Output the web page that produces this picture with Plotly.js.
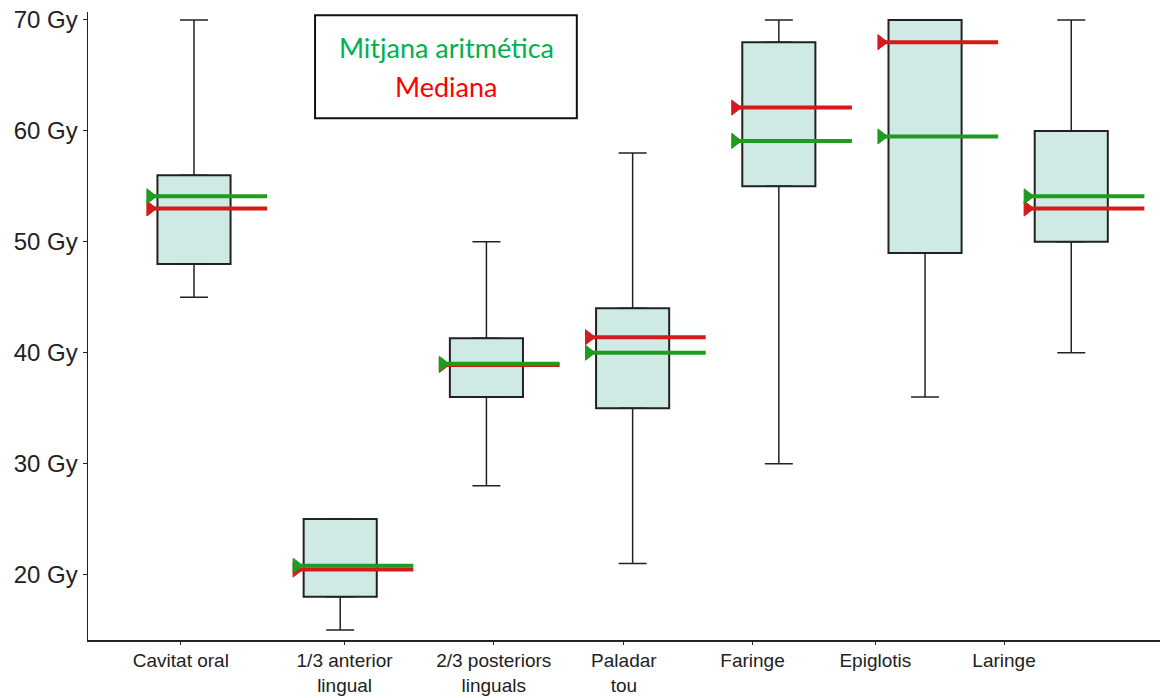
<!DOCTYPE html>
<html>
<head>
<meta charset="utf-8">
<script src="https://cdn.plot.ly/plotly-3.0.1.min.js"></script>
<style>html,body{margin:0;padding:0;background:#fff;}#chart{width:1164px;height:698px;}</style>
</head>
<body>
<div id="chart"></div>
<script>
// ---- data ----
const categories = ['Cavitat oral', '1/3 anterior<br>lingual', '2/3 posteriors<br>linguals', 'Paladar<br>tou', 'Faringe', 'Epiglotis', 'Laringe'];
const minVals    = [45, 15, 28, 21, 30, 36, 40];
const q1Vals     = [48, 18, 36, 35, 55, 49, 50];
const q3Vals     = [56, 25, 41.3, 44, 68, 70, 60];
const maxVals    = [70, 25, 50, 58, 70, 70, 70];
const meanVals   = [54.1, 20.8, 39.0, 40.0, 59.1, 59.5, 54.1];
const medianVals = [53.0, 20.45, 38.9, 41.4, 62.1, 68.0, 53.0];
const yTickVals  = [20, 30, 40, 50, 60, 70];
const yTickText  = ['20 Gy', '30 Gy', '40 Gy', '50 Gy', '60 Gy', '70 Gy'];
const legendTexts = ['Mitjana aritmética', 'Mediana'];

// ---- layout helpers ----
const idx = categories.map((_, i) => i);
const labelPos = [-0.09, 1.03, 2.05, 2.94, 3.82, 4.66, 5.54]; // where the original puts its axis labels
const lineLeft = -0.30, lineRight = 0.50;

function statTrace(vals, color) {
  const x = [], y = [], sym = [], sz = [];
  vals.forEach((v, i) => {
    x.push(i + lineLeft, i + lineRight, null);
    y.push(v, v, null);
    sym.push('triangle-right', 'circle', 'circle');
    sz.push(13, 0, 0);
  });
  return {
    type: 'scatter', mode: 'lines+markers', x, y,
    line: {color, width: 4},
    marker: {symbol: sym, size: sz, color, opacity: 1, line: {width: 1, color}},
    hoverinfo: 'skip', showlegend: false, cliponaxis: false
  };
}

const boxes = {
  type: 'bar', x: idx, base: q1Vals, y: q3Vals.map((q, i) => q - q1Vals[i]),
  width: 0.5,
  marker: {color: '#cfeae4', line: {color: '#222', width: 2}},
  hoverinfo: 'skip', showlegend: false
};
const upperWhisker = {
  type: 'scatter', mode: 'markers', x: idx, y: q3Vals,
  marker: {size: 1, opacity: 0},
  error_y: {type: 'data', symmetric: false, array: maxVals.map((m, i) => m - q3Vals[i]),
            arrayminus: idx.map(() => 0), color: '#222', thickness: 1.5, width: 14},
  hoverinfo: 'skip', showlegend: false
};
const lowerWhisker = {
  type: 'scatter', mode: 'markers', x: idx, y: q1Vals,
  marker: {size: 1, opacity: 0},
  error_y: {type: 'data', symmetric: false, array: idx.map(() => 0),
            arrayminus: q1Vals.map((q, i) => q - minVals[i]), color: '#222', thickness: 1.5, width: 14},
  hoverinfo: 'skip', showlegend: false
};

const traces = [boxes, upperWhisker, lowerWhisker,
                statTrace(medianVals, '#d41a1a'), statTrace(meanVals, '#1f9c1f')];

const layout = {
  width: 1164, height: 698,
  margin: {l: 88, r: 4, t: 12, b: 58, pad: 0},
  paper_bgcolor: '#fff', plot_bgcolor: '#fff',
  showlegend: false,
  font: {family: 'Liberation Sans, Arial, sans-serif', color: '#222'},
  xaxis: {
    range: [-0.725, 6.607], showgrid: false, zeroline: false,
    showline: true, linecolor: '#222', linewidth: 1.5,
    ticks: 'outside', ticklen: 3, tickcolor: '#222',
    tickvals: labelPos, ticktext: categories,
    tickfont: {size: 19, color: '#222'}
  },
  yaxis: {
    range: [14.1, 70.72], showgrid: false, zeroline: false,
    showline: true, linecolor: '#222', linewidth: 1.5,
    ticks: 'outside', ticklen: 4, tickcolor: '#222',
    tickvals: yTickVals, ticktext: yTickText,
    tickfont: {size: 24, color: '#222'}
  },
  shapes: [{
    type: 'rect', xref: 'paper', yref: 'paper',
    x0: 0.2118, x1: 0.456, y0: 0.831, y1: 0.995,
    line: {color: '#111', width: 2}, fillcolor: 'rgba(0,0,0,0)'
  }],
  annotations: [
    {xref: 'paper', yref: 'paper', x: 0.334, y: 0.944, text: legendTexts[0], showarrow: false,
     xanchor: 'center', yanchor: 'middle', font: {family: 'Lato, Carlito, sans-serif', size: 27, color: '#00b050'}},
    {xref: 'paper', yref: 'paper', x: 0.334, y: 0.882, text: legendTexts[1], showarrow: false,
     xanchor: 'center', yanchor: 'middle', font: {family: 'Lato, Carlito, sans-serif', size: 27, color: '#ff0000'}}
  ]
};

Plotly.newPlot('chart', traces, layout, {displayModeBar: false, staticPlot: true});
</script>
</body>
</html>
